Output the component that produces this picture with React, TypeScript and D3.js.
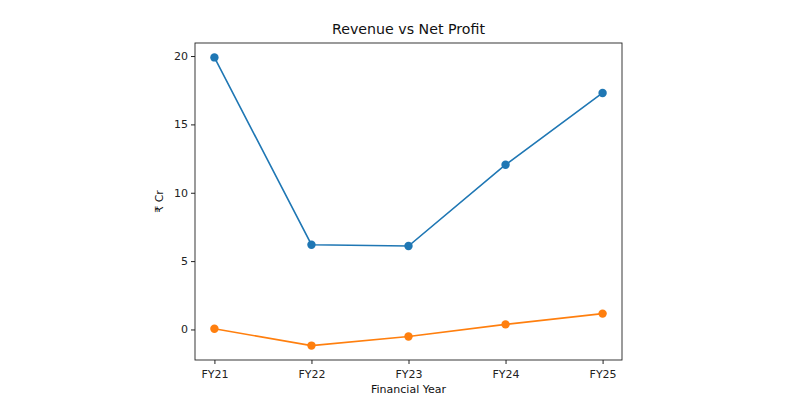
import React, { useEffect, useRef } from 'react';
import * as d3 from 'd3';

const years = ['FY21', 'FY22', 'FY23', 'FY24', 'FY25'];
const revenue = [19.9, 6.2, 6.1, 12.05, 17.3];
const netProfit = [0.05, -1.18, -0.52, 0.37, 1.16];
const yTicks = [0, 5, 10, 15, 20];

const App = () => {
  const svgRef = useRef<SVGSVGElement>(null);

  useEffect(() => {
    const margin = { top: 43, right: 178, bottom: 40, left: 195 },
      width = 800 - margin.left - margin.right,
      height = 400 - margin.top - margin.bottom;

    const root = d3.select(svgRef.current);
    root.selectAll('*').remove();
    root.attr('width', 800).attr('height', 400).style('font-family', 'DejaVu Sans');

    const svg = root.append('g').attr('transform', `translate(${margin.left},${margin.top})`);

    const x = d3.scaleLinear().domain([-0.2, years.length - 1 + 0.2]).range([0, width]);

    const all = revenue.concat(netProfit);
    const lo = d3.min(all)!, hi = d3.max(all)!;
    const pad = (hi - lo) * 0.05;
    const y = d3.scaleLinear().domain([lo - pad, hi + pad]).range([height, 0]);

    const series = [
      { values: revenue, color: '#1f77b4' },
      { values: netProfit, color: '#ff7f0e' },
    ];

    const line = d3
      .line<number>()
      .x((_, i) => x(i))
      .y((d) => y(d));

    series.forEach((s) => {
      svg
        .append('path')
        .datum(s.values)
        .attr('fill', 'none')
        .attr('stroke', s.color)
        .attr('stroke-width', 1.6)
        .attr('d', line);
      svg
        .selectAll(null)
        .data(s.values)
        .enter()
        .append('circle')
        .attr('cx', (_, i) => x(i))
        .attr('cy', (d) => y(d))
        .attr('r', 4.2)
        .attr('fill', s.color);
    });

    const xAxis = svg
      .append('g')
      .attr('transform', `translate(0,${height})`)
      .call(
        d3
          .axisBottom(x)
          .tickValues(d3.range(years.length))
          .tickFormat((i) => years[+i])
          .tickSize(4)
          .tickSizeOuter(0)
      );
    const yAxis = svg.append('g').call(d3.axisLeft(y).tickValues(yTicks).tickSize(4).tickSizeOuter(0));

    [xAxis, yAxis].forEach((a) => {
      a.select('.domain').remove();
      a.selectAll('text').attr('font-size', 11).attr('font-family', 'DejaVu Sans').attr('fill', '#222');
      a.selectAll('line').attr('stroke', '#222');
    });
    xAxis.selectAll('text').attr('dy', '1.0em');

    svg
      .append('rect')
      .attr('width', width)
      .attr('height', height)
      .attr('fill', 'none')
      .attr('stroke', '#222')
      .attr('stroke-width', 0.9);

    svg
      .append('text')
      .attr('x', width / 2)
      .attr('y', -9)
      .attr('text-anchor', 'middle')
      .attr('font-size', 14.2)
      .attr('fill', '#111')
      .text('Revenue vs Net Profit');

    svg
      .append('text')
      .attr('x', width / 2)
      .attr('y', height + 33)
      .attr('text-anchor', 'middle')
      .attr('font-size', 11)
      .attr('fill', '#111')
      .text('Financial Year');

    svg
      .append('text')
      .attr('transform', `translate(-32,${height / 2}) rotate(-90)`)
      .attr('text-anchor', 'middle')
      .attr('font-size', 11)
      .attr('fill', '#111')
      .text('₹ Cr');
  }, []);

  return <svg ref={svgRef} style={{ position: 'absolute', left: 0, top: 0 }}></svg>;
};

export default App;
